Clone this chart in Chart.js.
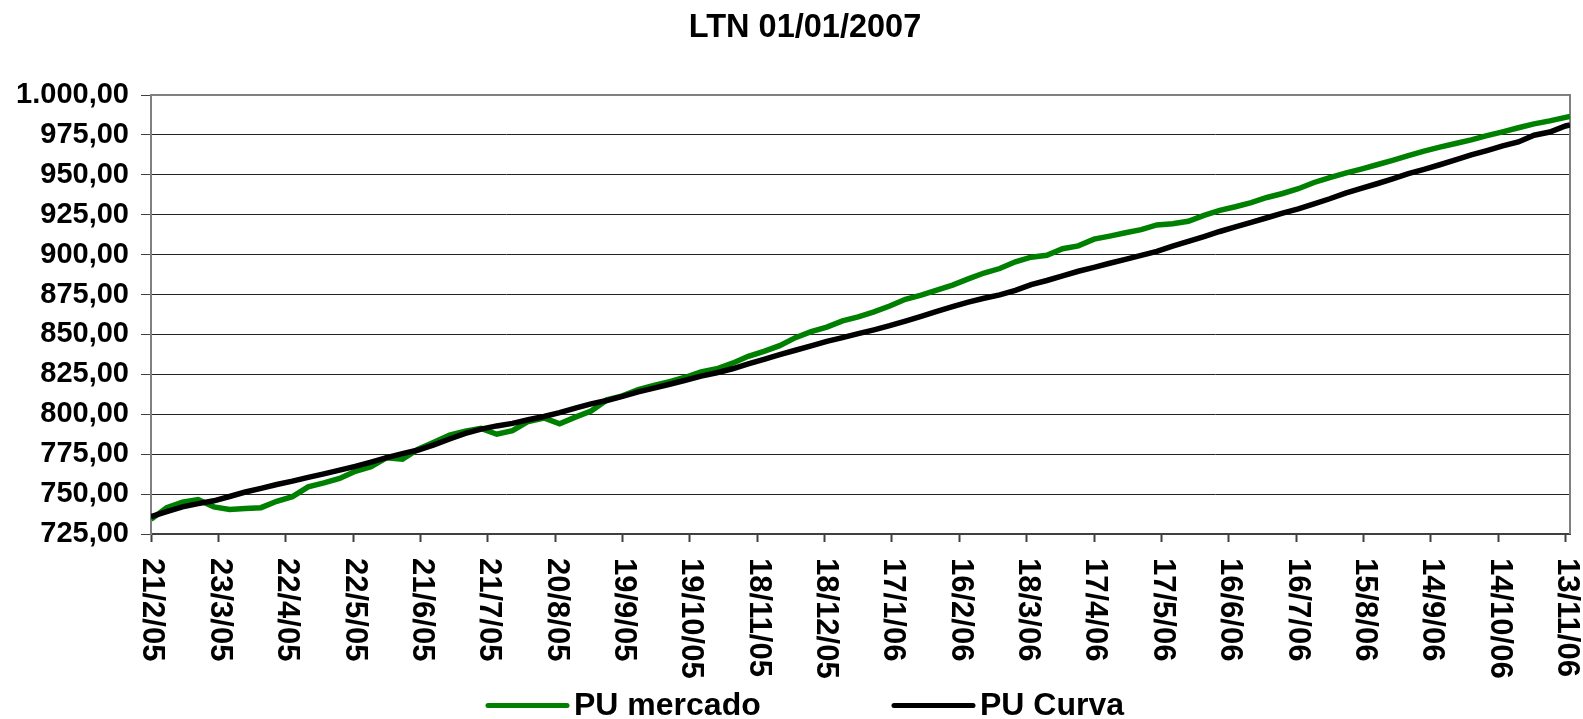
<!DOCTYPE html>
<html>
<head>
<meta charset="utf-8">
<title>LTN 01/01/2007</title>
<script src="https://cdn.jsdelivr.net/npm/chart.js@4.4.1/dist/chart.umd.min.js"></script>
<style>
  html, body { margin: 0; padding: 0; background: #fff; }
  #wrap { width: 1583px; height: 719px; position: relative; }
</style>
</head>
<body>
<div id="wrap"><canvas id="ltnChart"></canvas></div>
<script>
//Days since 21/2/2005 (first quote)
const days = [0, 7, 14, 21, 28, 35, 42, 49, 56, 63,
    70, 77, 84, 91, 98, 105, 112, 119, 126, 133,
    140, 147, 154, 161, 168, 175, 182, 189, 196, 203,
    210, 217, 224, 231, 238, 245, 252, 259, 266, 273,
    280, 287, 294, 301, 308, 315, 322, 329, 336, 343,
    350, 357, 364, 371, 378, 385, 392, 399, 406, 413,
    420, 427, 434, 441, 448, 455, 462, 469, 476, 483,
    490, 497, 504, 511, 518, 525, 532, 539, 546, 553,
    560, 567, 574, 581, 588, 595, 602, 609, 616, 623,
    630, 632];

const puMercado = [734.2, 741.5, 745, 746.5, 742, 740.3, 741, 741.5, 745.5, 748.4,
    754.5, 757, 759.8, 764.3, 767.2, 772.8, 771.8, 778.2, 782.5, 787,
    789.4, 791.2, 787.5, 789.8, 795.5, 797.7, 794, 798.2, 802, 809,
    811.5, 815.5, 818, 820.5, 823.2, 826.6, 828.5, 832, 836.3, 839.4,
    843, 848, 851.8, 854.6, 858.5, 861, 864.2, 867.8, 872, 874.6,
    877.8, 880.9, 884.8, 888.5, 891.3, 895.5, 898.4, 899.6, 903.7, 905.5,
    909.7, 911.6, 913.7, 915.7, 918.6, 919.3, 920.9, 924.6, 927.7, 930,
    932.6, 935.8, 938.3, 941.3, 945.2, 948.3, 951, 953.6, 956.3, 959.1,
    962, 964.8, 967.3, 969.6, 971.9, 974.5, 976.9, 979.5, 981.9, 983.8,
    986, 986.5];

const puCurva = [735.8, 739, 742, 744, 745.8, 748.5, 751.3, 753.6, 756, 758.1,
    760.5, 762.7, 765, 767.4, 770, 772.8, 775.3, 777.6, 780.8, 784.5,
    788, 790.7, 792.7, 794.3, 796.6, 798.6, 801, 803.9, 806.5, 808.6,
    811.2, 814, 816.4, 818.8, 821.3, 823.9, 826, 828.5, 831.5, 834.4,
    837.4, 840.1, 842.9, 845.7, 848, 850.5, 852.9, 855.5, 858.4, 861.4,
    864.4, 867.4, 870.3, 872.7, 874.8, 877.6, 881.2, 883.8, 886.7, 889.6,
    892, 894.6, 897, 899.5, 902, 905.3, 908.3, 911.3, 914.5, 917.4,
    920.2, 923.1, 926, 928.7, 931.8, 935, 938.5, 941.5, 944.4, 947.5,
    950.7, 953.4, 956.3, 959.3, 962.5, 965.2, 968.1, 970.6, 974.8, 976.8,
    980.6, 981.2];

const chartTitle = 'LTN 01/01/2007';
const yMin = 725, yMax = 1000, yStep = 25;
const xMax = 632, xStep = 30;

const fontFamily = '"Liberation Sans", Arial, sans-serif';

//Prints day offset as d/m/yy ex: 21/2/05
function dayLabel(offset) {
    const date = new Date(Date.UTC(2005, 1, 21 + offset));
    return date.getUTCDate() + '/' + (date.getUTCMonth() + 1) + '/' + String(date.getUTCFullYear()).slice(2);
}

//Prints 1000 as 1.000,00
function brNumber(value) {
    const parts = value.toFixed(2).split('.');
    return parts[0].replace(/\B(?=(\d{3})+(?!\d))/g, '.') + ',' + parts[1];
}

//Title, plot frame, rotated date labels and legend (Excel style)
const excelLook = {
    id: 'excelLook',
    beforeDatasetsDraw(chart) {
        const {ctx, chartArea} = chart;
        ctx.save();
        ctx.strokeStyle = '#808080';
        ctx.lineWidth = 2;
        ctx.beginPath();
        ctx.moveTo(chartArea.left, chartArea.top);
        ctx.lineTo(chartArea.right, chartArea.top);
        ctx.lineTo(chartArea.right, chartArea.bottom);
        ctx.stroke();
        ctx.restore();
    },
    afterDraw(chart) {
        const {ctx, chartArea} = chart;
        const xScale = chart.scales.x;

        ctx.save();
        ctx.fillStyle = '#000';

        //title
        ctx.font = 'bold 32.5px ' + fontFamily;
        ctx.textAlign = 'center';
        ctx.textBaseline = 'alphabetic';
        ctx.fillText(chartTitle, 805, 37);

        //date labels, reading downwards
        ctx.font = 'bold 31px ' + fontFamily;
        ctx.textAlign = 'left';
        ctx.textBaseline = 'middle';
        xScale.ticks.forEach(tick => {
            const x = xScale.getPixelForValue(tick.value);
            ctx.save();
            ctx.translate(x + 1, chartArea.bottom + 24);
            ctx.rotate(Math.PI / 2);
            ctx.fillText(dayLabel(tick.value), 0, 0);
            ctx.restore();
        });

        //legend slots: line start, line length
        const slots = [{x: 488, w: 79}, {x: 894, w: 79}];
        ctx.font = 'bold 32px ' + fontFamily;
        ctx.textBaseline = 'alphabetic';
        chart.data.datasets.forEach((ds, i) => {
            const slot = slots[i];
            ctx.strokeStyle = ds.borderColor;
            ctx.lineWidth = 5;
            ctx.lineCap = 'round';
            ctx.beginPath();
            ctx.moveTo(slot.x, 705.5);
            ctx.lineTo(slot.x + slot.w, 705.5);
            ctx.stroke();
            ctx.fillText(ds.label, slot.x + slot.w + 7, 715);
        });
        ctx.restore();
    }
};

const ltnCanvas = document.getElementById('ltnChart');
const ltnChart = new Chart(ltnCanvas, {
    type: 'line',
    data: {
        datasets: [{
            label: 'PU mercado',
            data: days.map((d, i) => ({x: d, y: puMercado[i]})),
            borderColor: '#008000',
            borderWidth: 5.5,
            pointRadius: 0,
            tension: 0,
            order: 1,
        }, {
            label: 'PU Curva',
            data: days.map((d, i) => ({x: d, y: puCurva[i]})),
            borderColor: '#000000',
            borderWidth: 5.5,
            pointRadius: 0,
            tension: 0,
            order: 0,
        }]
    },
    options: {
        responsive: true,
        maintainAspectRatio: false,
        animation: false,
        layout: {padding: {left: 0, right: 13, top: 95, bottom: 0}},
        plugins: {
            legend: {display: false},
            tooltip: {enabled: false},
            title: {display: false},
        },
        scales: {
            x: {
                type: 'linear',
                min: 0,
                max: xMax,
                ticks: {stepSize: xStep, includeBounds: false, display: false},
                grid: {drawOnChartArea: false, drawTicks: true, tickLength: 8, tickColor: '#404040', tickWidth: 2},
                border: {color: '#404040', width: 2},
                afterFit: scale => { scale.height = 185; },
            },
            y: {
                min: yMin,
                max: yMax,
                ticks: {
                    stepSize: yStep,
                    color: '#000',
                    padding: 12,
                    font: {family: fontFamily, size: 29, weight: 'bold'},
                    callback: value => brNumber(value),
                },
                grid: {color: '#222', lineWidth: 1, tickLength: 10, tickColor: '#404040'},
                border: {color: '#808080', width: 2},
                afterFit: scale => { scale.width = 151; },
            },
        },
    },
    plugins: [excelLook],
});
</script>
</body>
</html>
